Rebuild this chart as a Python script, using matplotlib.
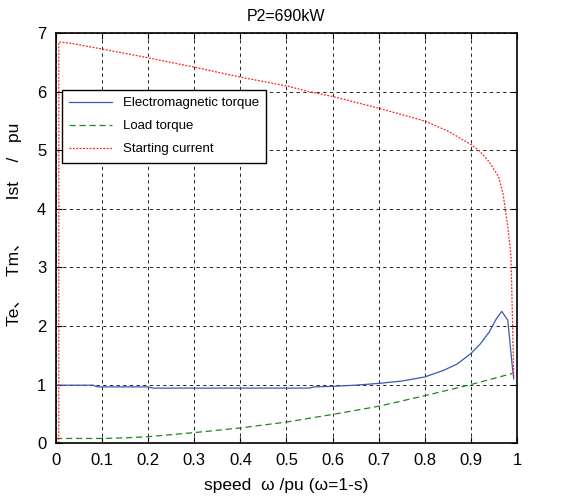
import matplotlib
matplotlib.use("Agg")
import matplotlib.pyplot as plt

plt.rcParams['font.family'] = ['Liberation Sans', 'Noto Sans CJK SC', 'DejaVu Sans']

# Electromagnetic torque
te_x = [0.0, 0.08, 0.09, 0.20, 0.21, 0.55, 0.56, 0.60, 0.65, 0.70, 0.75, 0.80, 0.84, 0.87,
        0.90, 0.92, 0.94, 0.955, 0.967, 0.98, 0.99, 0.993]
te_y = [0.99, 0.99, 0.96, 0.96, 0.94, 0.94, 0.96, 0.97, 0.99, 1.02, 1.06, 1.13, 1.24, 1.35,
        1.53, 1.69, 1.90, 2.12, 2.25, 2.10, 1.30, 1.10]
# Load torque
tm_x = [0.0, 0.10, 0.15, 0.20, 0.30, 0.40, 0.50, 0.60, 0.70, 0.80, 0.90, 0.99]
tm_y = [0.08, 0.08, 0.09, 0.11, 0.18, 0.26, 0.36, 0.49, 0.63, 0.81, 1.00, 1.19]
# Starting current
ist_x = [0.006, 0.006, 0.03, 0.10, 0.20, 0.30, 0.40, 0.50, 0.55, 0.60, 0.70, 0.80, 0.85,
         0.90, 0.92, 0.94, 0.96, 0.97, 0.98, 0.987, 0.99, 0.993]
ist_y = [0.0, 6.85, 6.83, 6.73, 6.58, 6.42, 6.25, 6.10, 6.00, 5.92, 5.72, 5.50, 5.33,
         5.10, 4.98, 4.80, 4.55, 4.25, 3.70, 3.20, 2.20, 1.12]

x_ticks = [0, 0.1, 0.2, 0.3, 0.4, 0.5, 0.6, 0.7, 0.8, 0.9, 1]
x_labels = ['0', '0.1', '0.2', '0.3', '0.4', '0.5', '0.6', '0.7', '0.8', '0.9', '1']
y_ticks = [0, 1, 2, 3, 4, 5, 6, 7]

fig = plt.figure(figsize=(5.86, 5.03), dpi=100)
ax = fig.add_axes([0.0956, 0.119, 0.7866, 0.815])

ax.plot(te_x, te_y, color='#3a56b8', lw=0.9, label='Electromagnetic torque')
ax.plot(tm_x, tm_y, color='#1a8a1a', lw=0.9, ls=(0, (5, 3)), label='Load torque')
ax.plot(ist_x, ist_y, color='#ff2020', lw=0.9, ls=(0, (1.5, 1.2)), label='Starting current')

ax.set_xlim(0, 1)
ax.set_ylim(0, 7)
ax.set_xticks(x_ticks)
ax.set_xticklabels(x_labels)
ax.set_yticks(y_ticks)
ax.tick_params(direction='in', top=True, right=True, labelsize=12, length=4, width=0.8, pad=7)
ax.grid(True, color='black', ls=(0, (4, 4)), lw=0.6)
for s in ax.spines.values():
    s.set_linewidth(1.2)

ax.set_title('P2=690kW', fontsize=11.5, pad=9)
ax.set_xlabel('speed  ω /pu (ω=1-s)', fontsize=12.5, labelpad=7)
ax.set_ylabel('Te、   Tm、       Ist    /   pu', fontsize=12.5)
ax.yaxis.set_label_coords(-0.074, 0.533)

leg = ax.legend(loc='upper left', bbox_to_anchor=(0.012, 0.862), fontsize=9.5,
                frameon=True, fancybox=False, edgecolor='black', framealpha=1,
                borderaxespad=0, handlelength=3.3, labelspacing=0.82, borderpad=0.55)
leg.get_frame().set_linewidth(1.0)

fig.savefig('out.png', dpi=100)
